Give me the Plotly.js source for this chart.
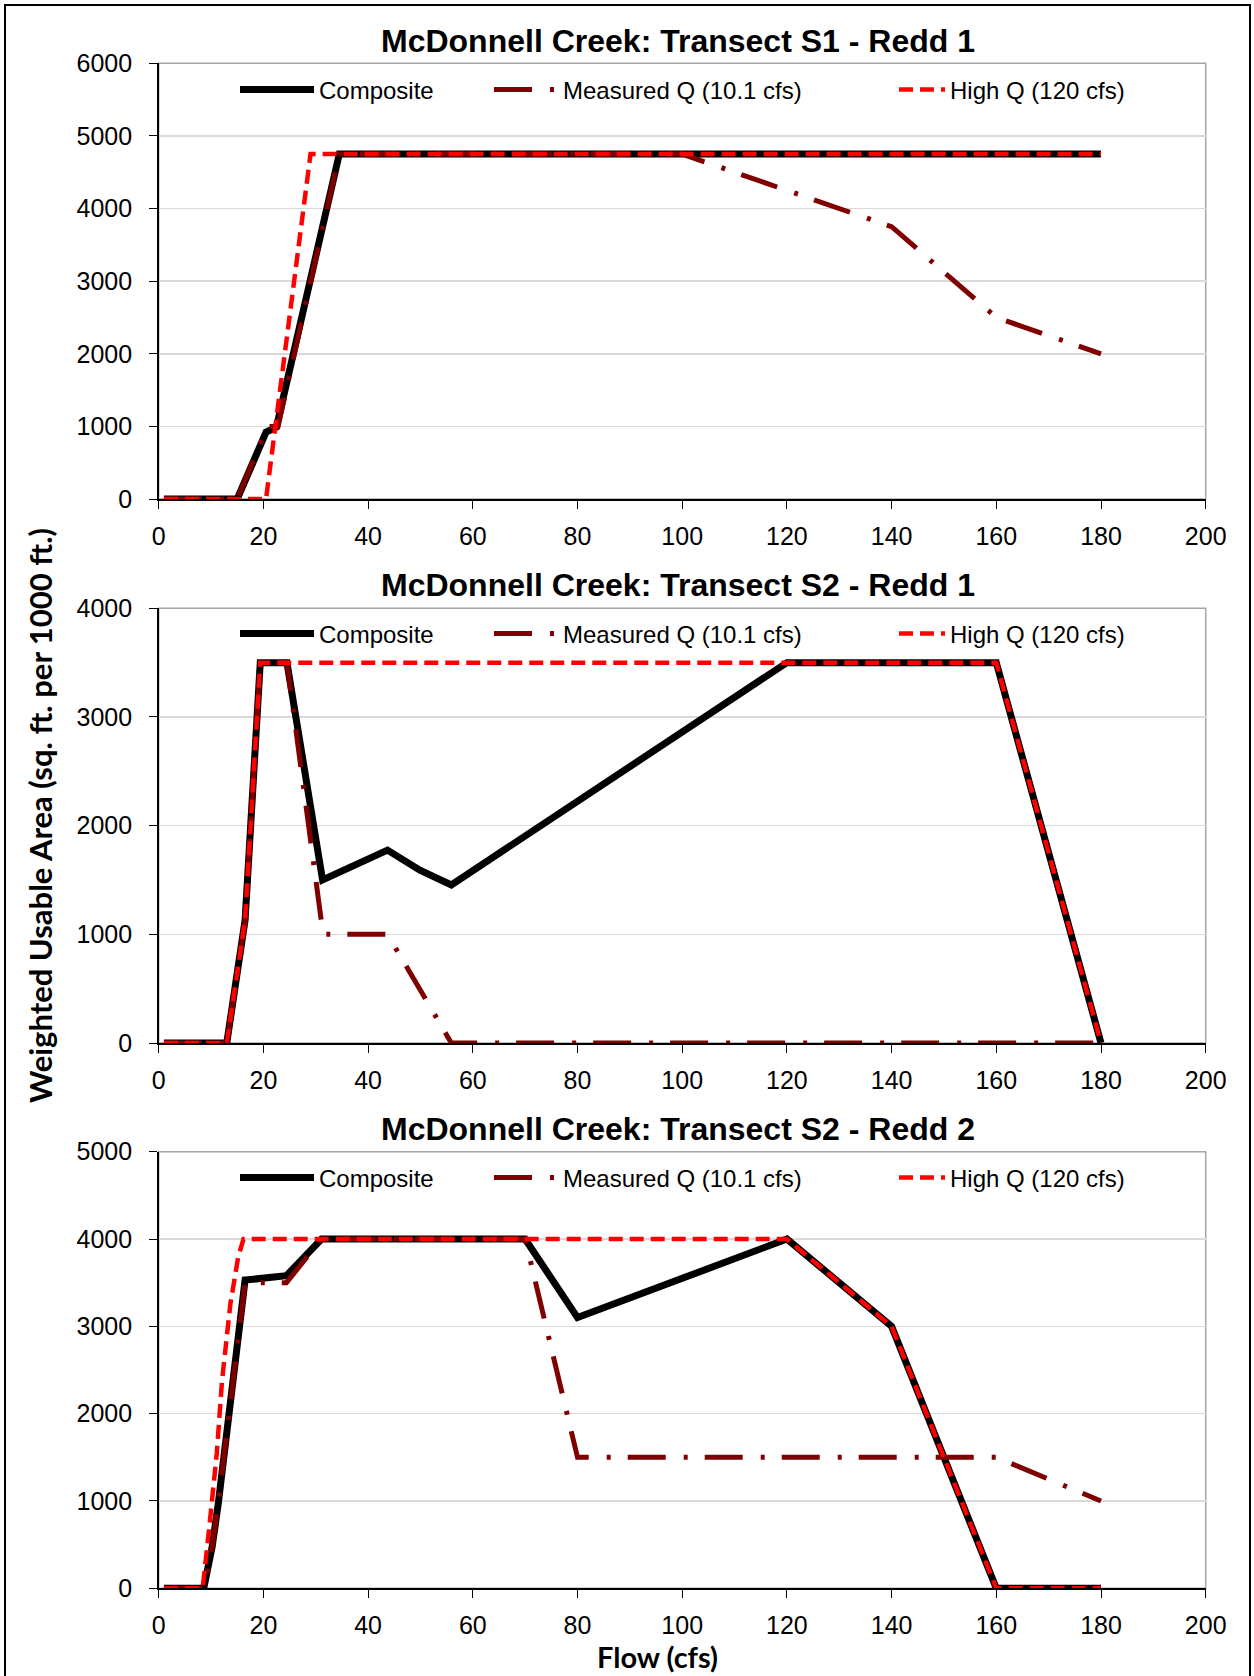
<!DOCTYPE html>
<html><head><meta charset="utf-8">
<script src="https://cdn.plot.ly/plotly-3.0.1.min.js"></script>
<style>html,body{margin:0;padding:0;background:#fff}#chart{width:1254px;height:1676px}</style>
</head><body><div id="chart"></div>
<script>
// ---- data (flow in cfs, WUA in sq. ft. per 1000 ft.) ----
const seriesNames = ["Composite", "Measured Q (10.1 cfs)", "High Q (120 cfs)"];
const plotTitles = ["McDonnell Creek: Transect S1 - Redd 1", "McDonnell Creek: Transect S2 - Redd 1", "McDonnell Creek: Transect S2 - Redd 2"];
const xTitle = "Flow (cfs)";
const yTitle = "Weighted Usable Area (sq. ft. per 1000 ft.)";

// Transect S1 - Redd 1
const s1CompX = [1, 15, 20.5, 22.5, 34.5, 100, 140, 160, 180];
const s1CompY = [0, 0, 920, 990, 4750, 4750, 4750, 4750, 4750];
const s1MeasX = [1, 15, 20.8, 22.8, 34.5, 100, 140, 160, 180];
const s1MeasY = [0, 0, 1000, 1000, 4750, 4750, 3750, 2500, 2000];
const s1HighX = [1, 20.5, 29, 180];
const s1HighY = [0, 0, 4750, 4750];

// Transect S2 - Redd 1
const s2r1CompX = [1, 13, 16.5, 19.4, 24.5, 31.3, 43.7, 49.9, 55.9, 120, 160, 180];
const s2r1CompY = [0, 0, 1130, 3500, 3500, 1500, 1775, 1590, 1455, 3500, 3500, 0];
const s2r1MeasX = [1, 13, 16.5, 19.4, 24.5, 31.4, 43.7, 55.9, 180];
const s2r1MeasY = [0, 0, 1130, 3500, 3500, 1000, 1000, 0, 0];
const s2r1HighX = [1, 13, 16.5, 19.4, 160, 180];
const s2r1HighY = [0, 0, 1130, 3500, 3500, 0];

// Transect S2 - Redd 2
const s2r2CompX = [1, 8.6, 10.2, 11.4, 16.5, 24.4, 31.1, 70, 80, 120, 140, 160, 180];
const s2r2CompY = [0, 0, 470, 980, 3530, 3580, 4000, 4000, 3100, 4000, 3000, 0, 0];
const s2r2MeasX = [1, 8.6, 10.2, 11.4, 16.5, 24.4, 31.1, 70, 80, 160, 180];
const s2r2MeasY = [0, 0, 470, 980, 3500, 3500, 4000, 4000, 1500, 1500, 1000];
const s2r2HighX = [1, 8.4, 9.8, 11.1, 12.1, 13.7, 15.2, 16.2, 120, 140, 160, 180];
const s2r2HighY = [0, 0, 780, 1550, 2380, 3260, 3800, 4000, 4000, 3000, 0, 0];

const xTicks = [0, 20, 40, 60, 80, 100, 120, 140, 160, 180, 200];
const yMaxes = [6000, 4000, 5000];

// ---- styling ----
const W = 1254, H = 1676;
const TICK_FONT = {family: "Liberation Sans, Arial, sans-serif", size: 25, color: "#000"};
const styles = [
  {color: "#000000", width: 7, dash: "solid"},
  {color: "#800000", width: 5, dash: "38px,18px,4px,17px"},
  {color: "#ff0000", width: 4.5, dash: "14px,7px"}
];
const xDom = [158.7 / W, 1205.7 / W];
const yDoms = [
  [1 - 499 / H, 1 - 63.3 / H],
  [1 - 1043 / H, 1 - 608.3 / H],
  [1 - 1588.3 / H, 1 - 1151.7 / H]
];
const legendY = [1 - 90 / H, 1 - 634 / H, 1 - 1178 / H];
const legendX = [235, 489, 894];
const legendItemW = [74, 64, 46];
const titleY = [1 - 40.6 / H, 1 - 585 / H, 1 - 1129 / H];

const dataSets = [
  [[s1CompX, s1CompY], [s1MeasX, s1MeasY], [s1HighX, s1HighY]],
  [[s2r1CompX, s2r1CompY], [s2r1MeasX, s2r1MeasY], [s2r1HighX, s2r1HighY]],
  [[s2r2CompX, s2r2CompY], [s2r2MeasX, s2r2MeasY], [s2r2HighX, s2r2HighY]]
];

const traces = [];
const layout = {
  width: W, height: H,
  margin: {l: 0, r: 0, t: 0, b: 0},
  paper_bgcolor: "#fff", plot_bgcolor: "#fff",
  font: TICK_FONT,
  shapes: [], annotations: []
};

let legendIdx = 0;
for (let p = 0; p < 3; p++) {
  const sfx = p === 0 ? "" : String(p + 1);
  for (let s = 0; s < 3; s++) {
    legendIdx++;
    const lname = legendIdx === 1 ? "legend" : "legend" + legendIdx;
    traces.push({
      type: "scatter", mode: "lines",
      x: dataSets[p][s][0], y: dataSets[p][s][1],
      name: seriesNames[s],
      xaxis: "x" + sfx, yaxis: "y" + sfx,
      line: {color: styles[s].color, width: styles[s].width, dash: styles[s].dash},
      legend: lname, showlegend: true, hoverinfo: "skip"
    });
    layout[lname] = {
      x: legendX[s] / W, y: legendY[p], xanchor: "left", yanchor: "middle",
      orientation: "h", bgcolor: "rgba(0,0,0,0)", borderwidth: 0,
      font: {family: "Liberation Sans, Arial, sans-serif", size: 24, color: "#000"},
      itemwidth: legendItemW[s]
    };
  }
  layout["xaxis" + sfx] = {
    domain: xDom, anchor: "y" + sfx, range: [0, 200],
    tickvals: xTicks, ticktext: xTicks.map(String),
    showline: true, linecolor: "#000", linewidth: 1.5,
    ticks: "outside", ticklen: 8, tickcolor: "#000", tickwidth: 1,
    showgrid: false, zeroline: false, tickfont: TICK_FONT, ticklabelstandoff: 6,
    fixedrange: true
  };
  layout["yaxis" + sfx] = {
    domain: yDoms[p], anchor: "x" + sfx, range: [0, yMaxes[p]], dtick: 1000, tick0: 0,
    showline: true, linecolor: "#000", linewidth: 1.5,
    ticks: "outside", ticklen: 8, tickcolor: "#000", tickwidth: 1,
    showgrid: true, gridcolor: "#d9d9d9", gridwidth: 1.5,
    zeroline: false, tickfont: TICK_FONT, ticklabelstandoff: 12,
    fixedrange: true
  };
  layout.shapes.push({
    type: "rect", xref: "x" + sfx + " domain", yref: "y" + sfx + " domain",
    x0: 0, x1: 1, y0: 0, y1: 1, layer: "below",
    line: {color: "#a6a6a6", width: 1.5}
  });
  layout.annotations.push({
    xref: "paper", yref: "paper", x: 678 / W, y: titleY[p],
    xanchor: "center", yanchor: "middle", showarrow: false,
    text: "<b>" + plotTitles[p] + "</b>",
    font: {family: "Liberation Sans, Arial, sans-serif", size: 32, color: "#000"}
  });
}

layout.annotations.push({
  xref: "paper", yref: "paper", x: 40 / W, y: 1 - 816 / H,
  xanchor: "center", yanchor: "middle", showarrow: false, textangle: -90,
  text: "<b>" + yTitle + "</b>",
  font: {family: "Lato, Open Sans, sans-serif", size: 31, color: "#000"}
});
layout.annotations.push({
  xref: "paper", yref: "paper", x: 657 / W, y: 1 - 1656 / H,
  xanchor: "center", yanchor: "middle", showarrow: false,
  text: "<b>" + xTitle + "</b>",
  font: {family: "Lato, Open Sans, sans-serif", size: 29, color: "#000"}
});
layout.shapes.push({
  type: "rect", xref: "paper", yref: "paper",
  x0: 5 / W, x1: 1250 / W, y0: -0.02, y1: 1 - 5 / H,
  line: {color: "#000", width: 2}, layer: "above"
});

Plotly.newPlot("chart", traces, layout, {staticPlot: true, displayModeBar: false});
</script>
</body></html>
